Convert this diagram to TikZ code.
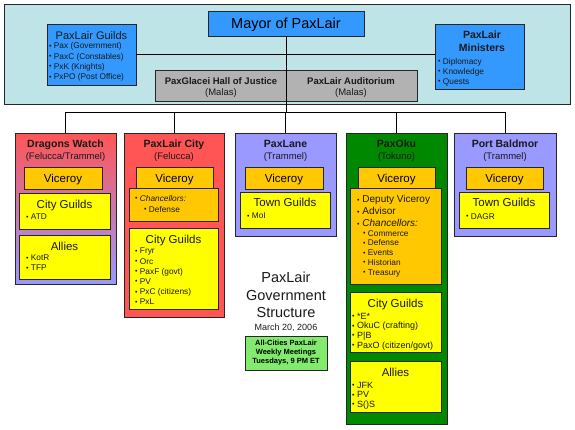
\documentclass[tikz,border=0pt]{standalone}
\usepackage{fontspec}
\setmainfont{Liberation Sans}
\definecolor{bgc}{RGB}{190,228,232}
\definecolor{bluec}{RGB}{51,153,255}
\definecolor{grayc}{RGB}{178,178,178}
\definecolor{redc}{RGB}{255,85,85}
\definecolor{lavc}{RGB}{153,153,255}
\definecolor{grnc}{RGB}{0,136,0}
\definecolor{orgc}{RGB}{255,200,0}
\definecolor{yelc}{RGB}{255,255,0}
\definecolor{lgrnc}{RGB}{130,235,110}
\newcounter{tn}
\newcommand\Bx[7]{\node[bx,#6,minimum width={(#4-#2)*1pt},minimum height={(#5-#3)*1pt}] (#1) at ({(#2+#4)/2},{(#3+#5)/2}) {#7};}
\newcommand\T[3]{\stepcounter{tn}\node[lbl] (t\arabic{tn}) at (#1,#2) {#3};}
\newcommand\Li[4]{\stepcounter{tn}\node[lst,font=#3] (t\arabic{tn}) at (#1,#2) {#4};}
\newcommand\fs[2]{\fontsize{#1}{#2}\selectfont}
\newcommand\tf{\fontsize{10.5}{12}\selectfont\bfseries}
\newcommand\sbf{\fontsize{9.5}{11}\selectfont}
\newcommand\hf{\fontsize{11.5}{13}\selectfont}
\newcommand\bu{\raisebox{0.6pt}{\fontsize{7}{7}\selectfont•}\ }
\begin{document}
\begin{tikzpicture}[x=1pt,y=-1pt,
  bx/.style={draw=black!85,line width=1pt,inner sep=0pt,outer sep=0pt},
  vc/.style={fill=orgc,font=\hf,text height=8.3pt,text depth=0pt},
  lbl/.style={inner sep=0pt,anchor=base,text=black!90},
  lst/.style={inner sep=0pt,anchor=north west,align=left,text=black!90},
  ln/.style={draw=black,line width=1pt}]
\useasboundingbox (0,0) rectangle (575,429);
% top panel
\Bx{bg}{4}{4}{570}{104}{fill=bgc}{}
\Bx{gray}{155}{70}{417}{101}{fill=grayc}{}
\T{221}{84}{\fs{9.5}{11}\bfseries PaxGlacei Hall of Justice}
\T{221}{95}{\fs{9.5}{11}(Malas)}
\T{351}{84}{\fs{9.5}{11}\bfseries PaxLair Auditorium}
\T{351}{95}{\fs{9.5}{11}(Malas)}
\Bx{mayor}{208}{11}{364}{36}{fill=bluec,font=\fs{14.5}{16},text height=10.4pt,text depth=0pt}{Mayor of PaxLair}
\Bx{guilds}{47}{24}{136}{85}{fill=bluec}{}
\Bx{min}{435}{24}{524}{89}{fill=bluec}{}
\coordinate (bar) at (286,112);
\draw[ln] (guilds.east) -- (guilds.east -| min.west);
\draw[ln] (mayor.south) -- (mayor.south |- bar);
\T{91.5}{39}{\fs{11}{13}PaxLair Guilds}
\Li{49}{42.6}{\fs{8.3}{10.3}}{\bu Pax (Government)\\\bu PaxC (Constables)\\\bu PxK (Knights)\\\bu PxPO (Post Office)}
\T{482}{38.3}{\tf PaxLair}
\T{482}{51}{\tf Ministers}
\Li{438}{58}{\fs{8.3}{10}}{\bu Diplomacy\\\bu Knowledge\\\bu Quests}
% city boxes
\Bx{dw}{15}{133}{116}{284}{top color=redc,bottom color=lavc}{}
\Bx{plc}{124}{133}{224}{317}{fill=redc}{}
\Bx{pl}{235}{133}{336}{236}{fill=lavc}{}
\Bx{po}{346}{133}{447}{424}{fill=grnc}{}
\Bx{pb}{454}{133}{556}{236}{fill=lavc}{}
\draw[ln] (dw.north |- bar) -- (pb.north |- bar);
\foreach \c in {dw,plc,pl,po,pb}{\draw[ln] (\c.north |- bar) -- (\c.north);}
% Dragons Watch
\T{65.5}{147.3}{\tf Dragons Watch}
\T{65.5}{159.3}{\sbf (Felucca/Trammel)}
\Bx{dwv}{24}{167}{102}{189}{vc}{Viceroy}
\Bx{dwg}{19}{193}{110}{229}{fill=yelc}{}
\T{64.5}{208}{\hf City Guilds}
\Li{26}{214}{\fs{8.3}{10}}{\bu ATD}
\Bx{dwa}{19}{235}{110}{279}{fill=yelc}{}
\T{64.5}{250.3}{\hf Allies}
\Li{26}{255}{\fs{8.3}{10}}{\bu KotR\\\bu TFP}
% PaxLair City
\T{174}{147.3}{\tf PaxLair City}
\T{174}{159.3}{\sbf (Felucca)}
\Bx{plcv}{136}{167}{213}{189}{vc}{Viceroy}
\Bx{plcc}{129}{188}{218}{221}{fill=orgc}{}
\Li{135}{195}{\fs{8.3}{11}}{\bu \textit{Chancellors:}\\\hspace*{9pt}\bu Defense}
\Bx{plcg}{129}{228}{218}{309}{fill=yelc}{}
\T{173.5}{243}{\hf City Guilds}
\Li{135}{248}{\fs{8.3}{10.2}}{\bu Fryr\\\bu Orc\\\bu PaxF (govt)\\\bu PV\\\bu PxC (citizens)\\\bu PxL}
% PaxLane
\T{285.5}{147.3}{\tf PaxLane}
\T{285.5}{159.3}{\sbf (Trammel)}
\Bx{plv}{245}{167}{323}{189}{vc}{Viceroy}
\Bx{plg}{240}{192}{330}{228}{fill=yelc}{}
\T{285}{206.7}{\hf Town Guilds}
\Li{247}{213}{\fs{8.3}{10}}{\bu MoI}
% PaxOku
\T{396.5}{147.3}{\tf PaxOku}
\T{396.5}{159.3}{\sbf (Tokuno)}
\Bx{pov}{358}{167}{435}{189}{vc}{Viceroy}
\Bx{poc}{350}{188}{441}{284}{fill=orgc}{}
\Li{357}{195.4}{\fs{10}{12}}{\bu Deputy Viceroy\\\bu Advisor\\\bu \textit{Chancellors:}}
\Li{363}{230}{\fs{8.3}{9.8}}{\bu Commerce\\\bu Defense\\\bu Events\\\bu Historian\\\bu Treasury}
\Bx{pog}{350}{292}{441}{352}{fill=yelc}{}
\T{395.5}{307.3}{\hf City Guilds}
\Li{352}{312.8}{\fs{9}{9.7}}{\bu *E*\\\bu OkuC (crafting)\\\bu P|B\\\bu PaxO (citizen/govt)}
\Bx{poa}{350}{361}{441}{412}{fill=yelc}{}
\T{395.5}{376.7}{\hf Allies}
\Li{352}{381.8}{\fs{9}{9.5}}{\bu JFK\\\bu PV\\\bu S()S}
% Port Baldmor
\T{505}{147.3}{\tf Port Baldmor}
\T{505}{159.3}{\sbf (Trammel)}
\Bx{pbv}{466}{167}{543}{189}{vc}{Viceroy}
\Bx{pbg}{459}{192}{549}{228}{fill=yelc}{}
\T{504}{206.7}{\hf Town Guilds}
\Li{466}{213}{\fs{8.3}{10}}{\bu DAGR}
% centre title
\T{286}{282.3}{\fs{14.5}{18}PaxLair}
\T{286}{300}{\fs{14.5}{18}Government}
\T{286}{317.7}{\fs{14.5}{18}Structure}
\T{286}{330.7}{\fs{9}{11}March 20, 2006}
\Bx{meet}{245}{336}{327}{370}{fill=lgrnc,font=\fs{7.5}{9}\bfseries,align=center}{All-Cities PaxLair\\Weekly Meetings\\Tuesdays, 9 PM ET}
\end{tikzpicture}
\end{document}
